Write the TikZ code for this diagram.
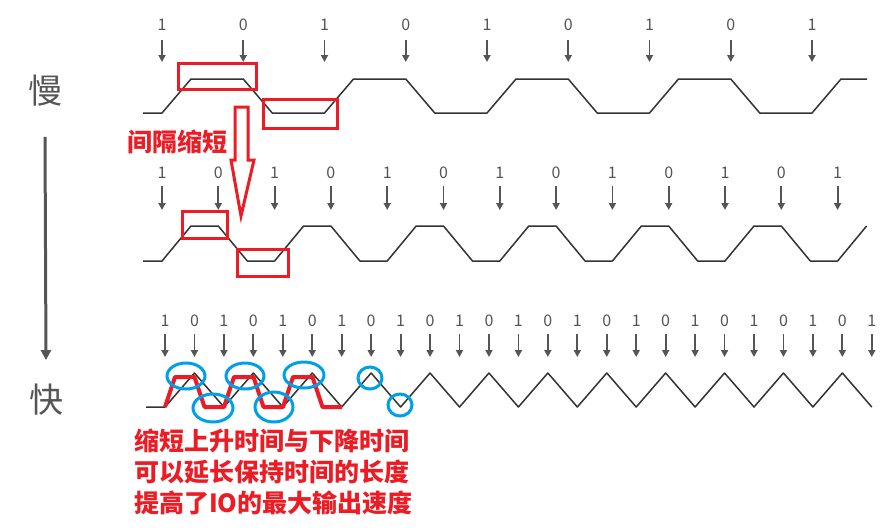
\documentclass[tikz,border=0pt]{standalone}
\usepackage{fontspec}
\setmainfont{Noto Sans CJK SC}
\usepackage{tikz}
\usetikzlibrary{arrows.meta}
\definecolor{markred}{HTML}{ED1C24}
\definecolor{markblue}{HTML}{00A0E9}
\definecolor{wavegray}{HTML}{333333}
\definecolor{tickgray}{HTML}{555555}

\begin{document}
\begin{tikzpicture}[x=1pt,y=-1pt,
 bit/.style={text=tickgray,font=\fontsize{16}{16}\selectfont,inner sep=0pt},
 tick/.style={draw=tickgray,line width=1.8pt,-{Triangle[length=7pt,width=7pt]}},
 wave/.style={draw=wavegray,line width=1.5pt,line join=round},
 redbox/.style={draw=markred,line width=3pt},
 bluering/.style={draw=markblue,line width=3pt},
 speed/.style={text=tickgray,font=\fontsize{34}{34}\selectfont,inner sep=0pt},
 note/.style={text=markred,font=\bfseries\fontsize{25}{31}\selectfont,inner sep=0pt}]
\useasboundingbox (0,0) rectangle (891,531);
% slow / fast
\node[speed] (slow) at (45,91) {慢};
\node[speed] (fast) at (46,400) {快};
\draw[draw=tickgray,line width=3pt,-{Triangle[length=10pt,width=10pt]}] ([yshift=-30pt]slow.south)--([yshift=24pt]fast.north);
% row 1
\foreach[evaluate={\i as \b using int(1-mod(\i,2))}] \i in {0,...,8}{
\node[bit] (ra\i) at ({162+81.25*\i},25) {\b};
\draw[tick] ([yshift=-15pt]ra\i.center)--++(0,22);}
\draw[wave] (143,113) foreach \i in {0,...,8}{--({162+81.25*\i},{113-34*mod(\i,2)})--({191+81.25*\i},{79+34*mod(\i,2)})}--(867,79);
\draw[redbox] (178,63) rectangle (256,89);
\draw[redbox] (263,99) rectangle (337,128);
% row 2
\foreach[evaluate={\i as \b using int(1-mod(\i,2))}] \i in {0,...,12}{
\node[bit] (rb\i) at ({162+56.3*\i},173) {\b};
\draw[tick] ([yshift=-13pt]rb\i.center)--++(0,24);}
\draw[wave] (143,261) foreach \i in {0,...,12}{--({162+56.3*\i},{261-35*mod(\i,2)})--({191+56.3*\i},{226+35*mod(\i,2)})};
\draw[redbox] (182,211) rectangle (227,238);
\draw[redbox] (237,249) rectangle (288,276);
% shorter interval
\node[text=markred,font=\bfseries\fontsize{25}{25}\selectfont,inner sep=0pt] (gap) at (177,142) {间隔缩短};
\draw[draw=markred,line width=3pt,line join=miter] (235,107)--(248,107)--(248,160)--(254,160)--(241,216)--(231,160)--(235,160)--cycle;
% row 3
\foreach[evaluate={\i as \b using int(1-mod(\i,2))}] \i in {0,...,24}{
\node[bit] (rc\i) at ({165+29.45*\i},321) {\b};
\draw[tick] ([yshift=-13pt]rc\i.center)--++(0,23);}
\draw[wave] (146,407) foreach \i in {0,...,24}{--({165+29.45*\i},{407-34*mod(\i,2)})};
\draw[draw=markred,line width=4pt,line join=round] (165,407) foreach \i in {0,...,5}{--({165+29.5*\i},{407-30*mod(\i,2)})--({175+29.5*\i},{377+30*mod(\i,2)})}--(342,407);
\foreach \cx/\cy/\rx/\ry in {186/376/19/13,213/408/20/14,245/376/19/13,274/407/19/15,304/375/20/13,370/378/12/11,400/405/12/11}
\draw[bluering] (\cx,\cy) ellipse [x radius=\rx,y radius=\ry];
% conclusion
\node[note,anchor=north west,align=left] (sum) at (134,429) {缩短上升时间与下降时间\\可以延长保持时间的长度\\提高了IO的最大输出速度};
\end{tikzpicture}
\end{document}
